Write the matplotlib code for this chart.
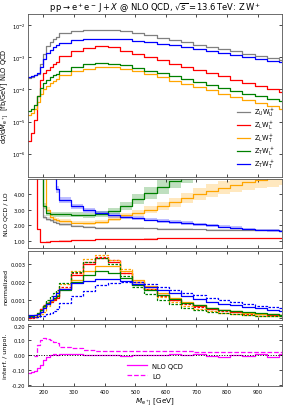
import numpy as np
import matplotlib
matplotlib.use('Agg')
import matplotlib.pyplot as plt
from matplotlib.ticker import MultipleLocator, NullLocator, FormatStrFormatter

# bin edges in M_{e+J} [GeV]
EDGES = [150, 160, 170, 180, 190, 200, 210, 220, 230, 240, 250, 290, 330, 370, 410,
         450, 490, 530, 570, 610, 650, 690, 730, 770, 810, 850, 890, 930, 970, 1010]

# NLO QCD differential cross sections [fb/GeV]
xs_UU = [2.24e-4, 2.4e-4, 2.7e-4, 3.0e-4, 6.0e-4, 1.26e-3, 2.24e-3, 3.0e-3, 3.7e-3, 4.3e-3,
         5.4e-3, 6.3e-3, 6.9e-3, 7.1e-3, 6.9e-3, 6.3e-3, 5.5e-3, 4.7e-3, 4.0e-3, 3.4e-3,
         2.9e-3, 2.45e-3, 2.1e-3, 1.78e-3, 1.51e-3, 1.29e-3, 1.1e-3, 9.3e-4, 7.9e-4]
xs_LL = [2.5e-6, 4.5e-6, 1.1e-5, 6.3e-5, 2.0e-4, 3.2e-4, 4.0e-4, 5.0e-4, 6.0e-4, 6.9e-4,
         1.05e-3, 1.5e-3, 1.9e-3, 2.2e-3, 2.0e-3, 1.58e-3, 1.26e-3, 1.0e-3, 7.9e-4, 6.3e-4,
         5.0e-4, 4.0e-4, 3.2e-4, 2.5e-4, 2.0e-4, 1.58e-4, 1.29e-4, 1.05e-4, 8.5e-5]
xs_LT = [1.6e-5, 1.9e-5, 2.5e-5, 4.0e-5, 7.1e-5, 1.0e-4, 1.26e-4, 1.58e-4, 1.86e-4, 2.14e-4,
         2.75e-4, 3.6e-4, 4.4e-4, 4.9e-4, 4.9e-4, 4.4e-4, 3.6e-4, 2.95e-4, 2.34e-4, 1.86e-4,
         1.48e-4, 1.17e-4, 9.3e-5, 7.4e-5, 5.9e-5, 4.7e-5, 3.7e-5, 3.0e-5, 2.45e-5]
xs_TL = [2.1e-5, 2.4e-5, 3.2e-5, 6.3e-5, 1.12e-4, 1.58e-4, 2.0e-4, 2.4e-4, 2.7e-4, 3.0e-4,
         3.8e-4, 5.0e-4, 5.9e-4, 6.5e-4, 6.3e-4, 5.5e-4, 4.6e-4, 3.8e-4, 3.2e-4, 2.6e-4,
         2.1e-4, 1.7e-4, 1.38e-4, 1.12e-4, 9.1e-5, 7.4e-5, 6.0e-5, 5.0e-5, 4.2e-5]
xs_TT = [2.34e-4, 2.5e-4, 2.8e-4, 3.2e-4, 5.0e-4, 8.9e-4, 1.32e-3, 1.7e-3, 2.04e-3, 2.34e-3,
         2.8e-3, 3.3e-3, 3.55e-3, 3.7e-3, 3.7e-3, 3.55e-3, 3.24e-3, 2.95e-3, 2.63e-3, 2.34e-3,
         2.04e-3, 1.78e-3, 1.55e-3, 1.35e-3, 1.17e-3, 1.02e-3, 8.9e-4, 7.8e-4, 6.8e-4]

# NLO QCD / LO ratios (values above 5 are off the panel)
k_UU = [8.0, 8.0, 8.0, 8.0, 8.0, 2.5, 2.4, 2.3, 2.22, 2.16,
        2.05, 1.95, 1.87, 1.83, 1.82, 1.81, 1.8, 1.79, 1.78, 1.76,
        1.75, 1.73, 1.72, 1.7, 1.69, 1.68, 1.67, 1.66, 1.65]
k_LL = [8.0, 8.0, 8.0, 1.76, 0.93, 0.93, 0.95, 0.97, 0.99, 1.0,
        1.02, 1.05, 1.07, 1.09, 1.11, 1.12, 1.13, 1.14, 1.15, 1.15,
        1.16, 1.16, 1.17, 1.17, 1.17, 1.18, 1.18, 1.18, 1.18]
k_LT = [8.0, 8.0, 8.0, 8.0, 8.0, 8.0, 3.0, 2.5, 2.4, 2.35,
        2.25, 2.17, 2.15, 2.22, 2.42, 2.62, 2.8, 2.98, 3.2, 3.45,
        3.72, 3.98, 4.2, 4.4, 4.58, 4.75, 4.9, 5.05, 5.2]
k_TL = [8.0, 8.0, 8.0, 8.0, 8.0, 3.2, 2.75, 2.72, 2.7, 2.7,
        2.7, 2.68, 2.62, 2.7, 2.9, 3.25, 3.65, 4.05, 4.45, 4.85,
        5.25, 5.65, 6.0, 6.4, 6.8, 7.2, 7.6, 8.0, 8.4]
k_TT = [8.0, 8.0, 8.0, 8.0, 8.0, 8.0, 8.0, 8.0, 8.0, 4.3,
        3.6, 3.2, 2.95, 2.78, 2.62, 2.52, 2.44, 2.36, 2.28, 2.2,
        2.13, 2.06, 1.98, 1.9, 1.83, 1.76, 1.7, 1.66, 1.62]

# relative half-width of the scale bands on the ratios
kerr_UU = [0.0, 0.0, 0.0, 0.0, 0.0, 0.05, 0.05, 0.04, 0.04, 0.04,
           0.04, 0.035, 0.035, 0.03, 0.03, 0.03, 0.03, 0.03, 0.03, 0.03,
           0.03, 0.03, 0.03, 0.03, 0.03, 0.03, 0.03, 0.03, 0.03]
kerr_LL = [0.0, 0.0, 0.0, 0.01, 0.01, 0.01, 0.01, 0.01, 0.01, 0.01,
           0.01, 0.01, 0.01, 0.01, 0.01, 0.01, 0.01, 0.01, 0.01, 0.01,
           0.01, 0.01, 0.01, 0.01, 0.01, 0.01, 0.01, 0.01, 0.01]
kerr_LT = [0.0, 0.0, 0.0, 0.0, 0.0, 0.0, 0.06, 0.05, 0.05, 0.05,
           0.05, 0.05, 0.05, 0.055, 0.06, 0.065, 0.07, 0.075, 0.08, 0.085,
           0.09, 0.095, 0.1, 0.1, 0.105, 0.11, 0.11, 0.115, 0.12]
kerr_TL = [0.0, 0.0, 0.0, 0.0, 0.0, 0.06, 0.06, 0.055, 0.055, 0.055,
           0.055, 0.056, 0.06, 0.065, 0.07, 0.08, 0.085, 0.09, 0.1, 0.1,
           0.105, 0.11, 0.11, 0.115, 0.12, 0.12, 0.12, 0.12, 0.12]
kerr_TT = [0.0, 0.0, 0.0, 0.0, 0.0, 0.0, 0.0, 0.0, 0.0, 0.05,
           0.05, 0.05, 0.05, 0.05, 0.05, 0.05, 0.05, 0.05, 0.05, 0.05,
           0.05, 0.05, 0.05, 0.05, 0.05, 0.05, 0.05, 0.05, 0.05]

# normalized shapes, NLO QCD and LO
n_LL_nlo = [0.00001, 0.00002, 0.00005, 0.0002, 0.0005, 0.00065, 0.0008, 0.0009, 0.001, 0.0011,
            0.0016, 0.0024, 0.003, 0.0033, 0.0031, 0.0025, 0.002, 0.0016, 0.00125, 0.001,
            0.0008, 0.00064, 0.0005, 0.0004, 0.00032, 0.00025, 0.0002, 0.00016, 0.00013]
n_LL_lo = [0.0, 0.00001, 0.00003, 0.0001, 0.0005, 0.0007, 0.00085, 0.00095, 0.00105, 0.00115,
           0.0017, 0.0025, 0.0031, 0.0034, 0.0032, 0.0025, 0.002, 0.0016, 0.00122, 0.00096,
           0.00076, 0.0006, 0.00047, 0.00037, 0.00029, 0.00023, 0.00018, 0.00014, 0.00011]
n_LT_nlo = [0.0001, 0.00011, 0.00015, 0.00024, 0.00042, 0.0006, 0.00075, 0.00094, 0.0011, 0.00127,
            0.0016, 0.0021, 0.0026, 0.0029, 0.0029, 0.0026, 0.0021, 0.00175, 0.00139, 0.0011,
            0.00088, 0.00069, 0.00055, 0.00044, 0.00035, 0.00028, 0.00022, 0.00018, 0.000145]
n_LT_lo = [0.00002, 0.00003, 0.00005, 0.0001, 0.0002, 0.0003, 0.00067, 0.001, 0.00123, 0.00145,
           0.0019, 0.0026, 0.00325, 0.0035, 0.0032, 0.0027, 0.002, 0.00158, 0.00117, 0.00086,
           0.00064, 0.00047, 0.00035, 0.00027, 0.00021, 0.00016, 0.00012, 0.0001, 0.000075]
n_TL_nlo = [0.000084, 0.000096, 0.00013, 0.00025, 0.00045, 0.00063, 0.0008, 0.00096, 0.00108, 0.0012,
            0.00152, 0.002, 0.00236, 0.0026, 0.0025, 0.0022, 0.00184, 0.00152, 0.00128, 0.00104,
            0.00084, 0.00068, 0.00055, 0.00045, 0.00036, 0.0003, 0.00024, 0.0002, 0.00017]
n_TL_lo = [0.00002, 0.00003, 0.00005, 0.0001, 0.0003, 0.00068, 0.001, 0.00121, 0.00137, 0.00152,
           0.00193, 0.00256, 0.0031, 0.0033, 0.00296, 0.00232, 0.00173, 0.00129, 0.00099, 0.00074,
           0.00055, 0.00041, 0.00031, 0.00024, 0.00018, 0.00014, 0.00011, 0.000086, 0.00007]
n_TT_nlo = [0.000136, 0.000145, 0.00016, 0.00019, 0.00029, 0.00052, 0.00077, 0.00099, 0.00118, 0.00136,
            0.00162, 0.00191, 0.00206, 0.00215, 0.00215, 0.00206, 0.00188, 0.00171, 0.00153, 0.00136,
            0.00118, 0.00103, 0.0009, 0.00078, 0.00068, 0.00059, 0.00052, 0.00045, 0.00039]
n_TT_lo = [0.00003, 0.00003, 0.00004, 0.00005, 0.00008, 0.00012, 0.00018, 0.00025, 0.00035, 0.0005,
           0.0008, 0.0012, 0.0015, 0.0018, 0.00195, 0.002, 0.00198, 0.00185, 0.0017, 0.00155,
           0.0014, 0.00125, 0.0011, 0.00097, 0.00085, 0.00075, 0.00066, 0.00058, 0.00052]

# interference / unpolarized
interf_nlo = [-0.12, -0.118, -0.11, -0.09, -0.065, -0.035, -0.015, 0.0, 0.005, 0.003,
              0.005, 0.004, 0.0, -0.002, 0.0, -0.003, 0.002, -0.002, 0.0, 0.004,
              -0.002, 0.006, -0.005, -0.012, 0.003, -0.006, 0.01, -0.012, 0.008]
interf_lo = [np.nan, np.nan, -0.005, 0.068, 0.1, 0.115, 0.11, 0.1, 0.09, 0.08,
             0.058, 0.045, 0.034, 0.028, 0.027, 0.03, 0.03, 0.028, 0.027, 0.026,
             0.025, 0.024, 0.024, 0.022, 0.021, 0.02, 0.02, 0.019, 0.02]

LABELS = [r'$\mathrm{Z_U W_U^+}$', r'$\mathrm{Z_L W_L^+}$', r'$\mathrm{Z_L W_T^+}$',
          r'$\mathrm{Z_T W_L^+}$', r'$\mathrm{Z_T W_T^+}$']
COLORS = ['grey', 'red', 'orange', 'green', 'blue']


def stairs(ax, vals, **kw):
    v = np.asarray(vals, dtype=float)
    return ax.step(EDGES, np.append(v, v[-1]), where='post', **kw)


def band(ax, vals, err, color):
    v = np.asarray(vals, dtype=float)
    e = np.asarray(err, dtype=float) * v
    lo = v - e
    hi = v + e
    ax.fill_between(EDGES, np.append(lo, lo[-1]), np.append(hi, hi[-1]),
                    step='post', color=color, alpha=0.25, lw=0)


fig = plt.figure(figsize=(2.93, 4.10), dpi=100)
ax1 = fig.add_axes([0.096, 0.566, 0.867, 0.397])
ax2 = fig.add_axes([0.096, 0.393, 0.867, 0.168])
ax3 = fig.add_axes([0.096, 0.217, 0.867, 0.168])
ax4 = fig.add_axes([0.096, 0.056, 0.867, 0.151])

LW = 0.9
TFS = 3.7
LFS = 4.6

# --- top: absolute distributions ---
for vals, lab, c in zip([xs_UU, xs_LL, xs_LT, xs_TL, xs_TT], LABELS, COLORS):
    stairs(ax1, vals, color=c, lw=LW, label=lab)
ax1.set_yscale('log')
ax1.set_ylim(1.9e-7, 2.15e-2)
ax1.yaxis.set_minor_locator(NullLocator())
ax1.set_ylabel(r'd$\sigma$/d$M_{\mathrm{e}^+\mathrm{J}}$  [fb/GeV] NLO QCD', fontsize=4.8)
ax1.legend(loc='lower right', fontsize=4.8, frameon=False, handlelength=2.0,
           labelspacing=0.1, borderaxespad=0.6, handletextpad=0.6)
ax1.set_title(r'$\mathrm{p\,p} \rightarrow \mathrm{e^+ e^-\, J} + X$ @ NLO QCD, '
              r'$\sqrt{s} = 13.6\,\mathrm{TeV}$: $\mathrm{Z\,W^+}$', fontsize=6, pad=3)

# --- ratio panel ---
for vals, err, c in zip([k_UU, k_LL, k_LT, k_TL, k_TT],
                        [kerr_UU, kerr_LL, kerr_LT, kerr_TL, kerr_TT], COLORS):
    band(ax2, vals, err, c)
    stairs(ax2, vals, color=c, lw=LW)
ax2.set_ylim(0.55, 4.95)
ax2.set_yticks([1, 2, 3, 4])
ax2.yaxis.set_major_formatter(FormatStrFormatter('%.2f'))
ax2.set_ylabel('NLO QCD / LO', fontsize=LFS)

# --- normalized shapes ---
for nlo, lo, c in zip([n_LL_nlo, n_LT_nlo, n_TL_nlo, n_TT_nlo],
                      [n_LL_lo, n_LT_lo, n_TL_lo, n_TT_lo], COLORS[1:]):
    stairs(ax3, nlo, color=c, lw=LW)
    stairs(ax3, lo, color=c, lw=LW, ls=(0, (2, 1.2)))
ax3.set_ylim(-0.00013, 0.0037)
ax3.set_yticks([0, 0.001, 0.002, 0.003])
ax3.yaxis.set_major_formatter(FormatStrFormatter('%.3f'))
ax3.set_ylabel('normalized', fontsize=LFS)

# --- interference ---
stairs(ax4, interf_nlo, color='magenta', lw=LW, label='NLO QCD')
stairs(ax4, interf_lo, color='magenta', lw=LW, ls='--', label='LO')
ax4.axhline(0, color='black', ls=':', lw=0.7)
ax4.set_ylim(-0.21, 0.21)
ax4.set_yticks([-0.2, -0.1, 0, 0.1, 0.2])
ax4.yaxis.set_major_formatter(FormatStrFormatter('%.2f'))
ax4.set_ylabel('interf. / unpol.', fontsize=LFS)
ax4.set_xlabel(r'$M_{\mathrm{e}^+\mathrm{J}}$ [GeV]', fontsize=5.2, labelpad=1)
ax4.legend(loc='lower center', bbox_to_anchor=(0.5, 0.02), fontsize=4.9, frameon=False,
           handlelength=2.8, labelspacing=0.6)

for ax in [ax1, ax2, ax3, ax4]:
    ax.set_xlim(150, 980)
    ax.xaxis.set_major_locator(MultipleLocator(100))
    ax.tick_params(direction='in', top=True, right=True, labelsize=TFS,
                   length=2.5, width=0.5, pad=2)
    ax.yaxis.set_label_coords(-0.078, 0.5)
    for s in ax.spines.values():
        s.set_linewidth(0.6)
        s.set_color('#555555')
    if ax is not ax4:
        ax.tick_params(labelbottom=False)
ax1.yaxis.set_label_coords(-0.066, 0.5)

fig.savefig('out.png', dpi=100)
